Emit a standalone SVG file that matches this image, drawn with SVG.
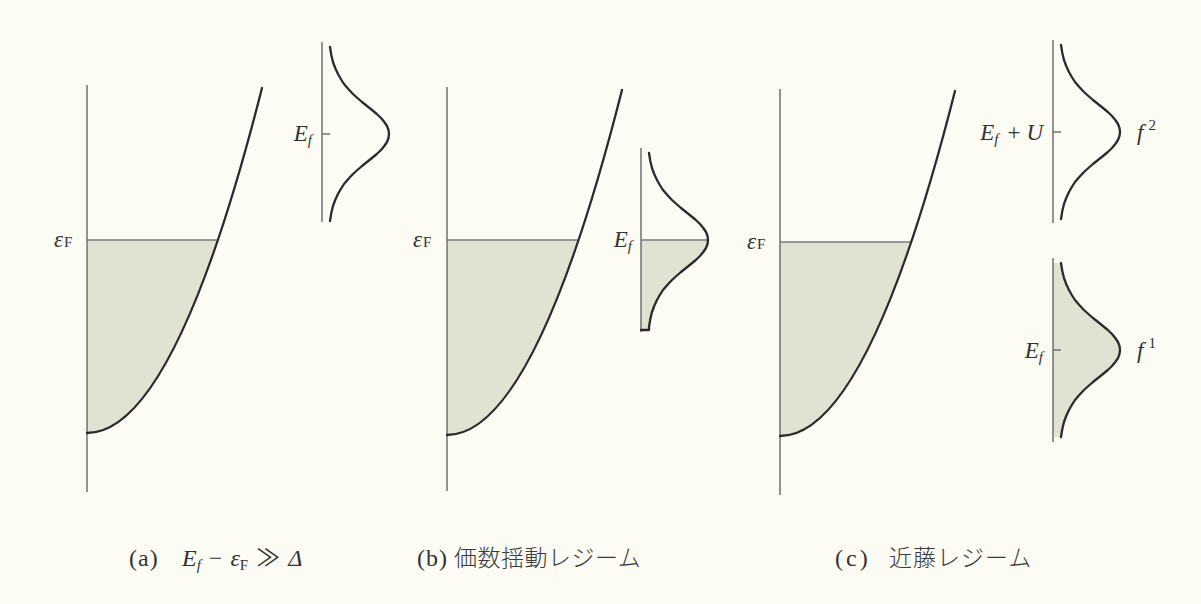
<svg xmlns="http://www.w3.org/2000/svg" xmlns:xlink="http://www.w3.org/1999/xlink" width="1201" height="604" viewBox="0 0 1201 604">
<style>
.bg{fill:#fcfbf4}
.axis{stroke:#707070;stroke-width:1.5;fill:none}
.fermi{stroke:#7a7a7a;stroke-width:1.3;fill:none}
.curve{stroke:#2b2b2b;stroke-width:2.3;fill:none;stroke-linejoin:round;stroke-linecap:round}
.shade{fill:#e0e3d2;stroke:none}
.lbl{font-family:"Liberation Serif","DejaVu Serif",serif;fill:#333;font-size:23px}
.it{font-style:italic}
.cap{font-family:"Liberation Serif","Noto Sans CJK JP",serif;fill:#333;font-size:24px}
.cjk{font-family:"Noto Sans CJK JP",sans-serif;fill:#3a3a3a;font-size:23px;font-weight:300}
</style>
<defs>
<path id="lor" d="M8,-87 L9.3,-79 L11,-72 L13.2,-66 L16,-60 L18.8,-55 L22,-50 L26.3,-45 L31,-40 L35.4,-36 L40,-32 L45,-28 L50,-24 L54.8,-20 L59,-16 L62.3,-12 L65,-8 L66.5,-4 L67,0 L66.5,4 L65,8 L62.3,12 L59,16 L54.8,20 L50,24 L45,28 L40,32 L35.4,36 L31,40 L26.3,45 L22,50 L18.8,55 L16,60 L13.2,66 L11,72 L9.3,79 L8,87"/>
</defs>
<rect class="bg" x="0" y="0" width="1201" height="604"/>

<g id="panel-a">
  <path class="shade" d="M87,240 L87,433 Q152.45,433 217.9,240 Z"/>
  <line class="fermi" x1="87" y1="240" x2="218" y2="240"/>
  <line class="axis" x1="87" y1="85" x2="87" y2="492"/>
  <path class="curve" d="M87,433 Q174.5,433 262,88"/>
  <text class="lbl" x="54" y="247"><tspan class="it">ε</tspan><tspan font-size="15" dx="1">F</tspan></text>
</g>
<g id="dos-a" transform="translate(322,134)">
  <line class="axis" x1="0" y1="-92" x2="0" y2="88"/>
  <line class="axis" x1="0" y1="0" x2="8" y2="0"/>
  <use xlink:href="#lor" class="curve"/>
  <text class="lbl it" x="-10" y="7" text-anchor="end">E<tspan font-size="15" dy="4">f</tspan></text>
</g>

<g id="panel-b">
  <path class="shade" d="M447,240 L447,435 Q512.8,435 578.6,240 Z"/>
  <line class="fermi" x1="447" y1="240" x2="579" y2="240"/>
  <line class="axis" x1="447" y1="87" x2="447" y2="491"/>
  <path class="curve" d="M447,435 Q534.5,435 622,90"/>
  <text class="lbl" x="413" y="247"><tspan class="it">ε</tspan><tspan font-size="15" dx="1">F</tspan></text>
</g>
<g id="dos-b" transform="translate(641,240)">
  <path class="shade" d="M0,0 L67,0 L66.5,4 L65,8 L62.3,12 L59,16 L54.8,20 L50,24 L45,28 L40,32 L35.4,36 L31,40 L26.3,45 L22,50 L18.8,55 L16,60 L13.2,66 L11,72 L9.3,79 L8,87 L8,90 L0,90 Z"/>
  <line class="axis" x1="0" y1="-92" x2="0" y2="92"/>
  <line class="fermi" x1="0" y1="0" x2="67" y2="0"/>
  <path class="curve" d="M8,-87 L9.3,-79 L11,-72 L13.2,-66 L16,-60 L18.8,-55 L22,-50 L26.3,-45 L31,-40 L35.4,-36 L40,-32 L45,-28 L50,-24 L54.8,-20 L59,-16 L62.3,-12 L65,-8 L66.5,-4 L67,0 L66.5,4 L65,8 L62.3,12 L59,16 L54.8,20 L50,24 L45,28 L40,32 L35.4,36 L31,40 L26.3,45 L22,50 L18.8,55 L16,60 L13.2,66 L11,72 L9.3,79 L8,87 L8,90 L0,90"/>
  <text class="lbl it" x="-9" y="7" text-anchor="end">E<tspan font-size="15" dy="4">f</tspan></text>
</g>

<g id="panel-c">
  <path class="shade" d="M780,242 L780,436 Q845.6,436 911.2,242 Z"/>
  <line class="fermi" x1="780" y1="242" x2="911" y2="242"/>
  <line class="axis" x1="780" y1="89" x2="780" y2="495"/>
  <path class="curve" d="M780,436 Q867.5,436 955,91"/>
  <text class="lbl" x="747" y="249"><tspan class="it">ε</tspan><tspan font-size="15" dx="1">F</tspan></text>
</g>
<g id="dos-c-upper" transform="translate(1053,132)">
  <line class="axis" x1="0" y1="-92" x2="0" y2="91"/>
  <line class="axis" x1="0" y1="0" x2="8" y2="0"/>
  <use xlink:href="#lor" class="curve"/>
  <text class="lbl" x="-10" y="8" text-anchor="end"><tspan class="it">E</tspan><tspan class="it" font-size="15" dy="4">f</tspan><tspan dy="-4" dx="9">+</tspan><tspan class="it" dx="6">U</tspan></text>
  <text class="lbl it" x="84" y="8">f<tspan font-size="15" dx="5" dy="-10" font-style="normal">2</tspan></text>
</g>
<g id="dos-c-lower" transform="translate(1053,350)">
  <path class="shade" d="M0,-87 L8,-87 L9.3,-79 L11,-72 L13.2,-66 L16,-60 L18.8,-55 L22,-50 L26.3,-45 L31,-40 L35.4,-36 L40,-32 L45,-28 L50,-24 L54.8,-20 L59,-16 L62.3,-12 L65,-8 L66.5,-4 L67,0 L66.5,4 L65,8 L62.3,12 L59,16 L54.8,20 L50,24 L45,28 L40,32 L35.4,36 L31,40 L26.3,45 L22,50 L18.8,55 L16,60 L13.2,66 L11,72 L9.3,79 L8,87 L0,87 Z"/>
  <line class="axis" x1="0" y1="-92" x2="0" y2="92"/>
  <line class="axis" x1="0" y1="0" x2="8" y2="0"/>
  <use xlink:href="#lor" class="curve"/>
  <text class="lbl it" x="-10" y="8" text-anchor="end">E<tspan font-size="15" dy="4">f</tspan></text>
  <text class="lbl it" x="84" y="8">f<tspan font-size="15" dx="5" dy="-10" font-style="normal">1</tspan></text>
</g>

<g id="captions">
  <text class="cap" x="129" y="566" letter-spacing="1">(a)</text>
  <text class="cap" x="182" y="566"><tspan class="it">E</tspan><tspan class="it" font-size="15" dy="4">f</tspan><tspan dy="-4" dx="8">−</tspan><tspan class="it" dx="8">ε</tspan><tspan font-size="15" dy="4">F</tspan><tspan dy="-4" dx="8">≫</tspan><tspan class="it" dx="8">Δ</tspan></text>
  <text class="cap" x="417" y="566" letter-spacing="1">(b)</text>
  <text class="cjk" x="454" y="566" letter-spacing="0.5">価数揺動レジーム</text>
  <text class="cap" x="835" y="566" letter-spacing="3">(c)</text>
  <text class="cjk" x="889" y="566" letter-spacing="1">近藤レジーム</text>
</g>
</svg>
